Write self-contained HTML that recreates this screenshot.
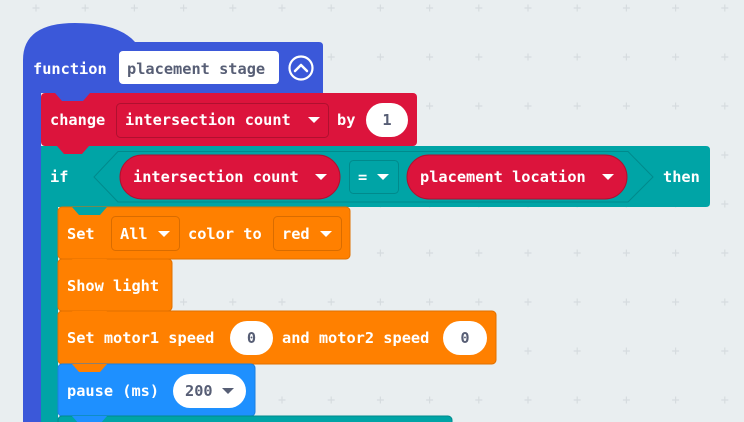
<!DOCTYPE html>
<html><head><style>
html,body{margin:0;padding:0;background:#e9eef0;width:744px;height:422px;overflow:hidden}
svg text{font-family:"DejaVu Sans Mono","Liberation Mono",monospace;font-weight:bold;font-size:15.3px;dominant-baseline:central}
.w{fill:#fff}.g{fill:#575e75}
</style></head><body>
<svg width="744" height="422" xmlns="http://www.w3.org/2000/svg">
<g fill="none" stroke="#d6dcdf" stroke-width="1.2" id="grid">
</g>
<path d="M23,60 Q23,23 75,23 Q118,23 135,42 L319,42 Q323,42 323,46 L323,93 L41,93 L41,422 L23,422 Z" fill="#3b58d9"/>
<path d="M41,146 L706,146 Q710,146 710,150 L710,203 Q710,207 706,207 L58,207 L58,422 L41,422 Z" fill="#00a4a6"/>
<rect x="41" y="93" width="376" height="53" rx="4" fill="#dc143c"/>
<rect x="58" y="207" width="292" height="52" rx="4" fill="#ff8000" stroke="#e07000" stroke-width="1"/>
<rect x="58" y="259" width="114" height="52" rx="4" fill="#ff8000" stroke="#e07000" stroke-width="1"/>
<rect x="58" y="311" width="438" height="53" rx="4" fill="#ff8000" stroke="#e07000" stroke-width="1"/>
<rect x="58" y="364" width="197" height="52" rx="4" fill="#1e90ff" stroke="#1a7fe0" stroke-width="1"/>
<rect x="58" y="416" width="394" height="20" rx="4" fill="#00a4a6" stroke="#008a8c" stroke-width="1"/>
<polygon points="55,93 62,101 83,101 90,93" fill="#3b58d9"/>
<polygon points="57,146 64,154 82,154 89,146" fill="#dc143c"/>
<polygon points="72,207 79,215 100,215 107,207" fill="#00a4a6"/>
<polygon points="72,259 79,267 100,267 107,259" fill="#ff8000"/>
<polygon points="72,311 79,319 100,319 107,311" fill="#ff8000"/>
<polygon points="72,364 79,372 100,372 107,364" fill="#ff8000"/>
<polygon points="72,416 79,424 100,424 107,416" fill="#1e90ff"/>
<text x="33" y="69" class="w">function</text>
<rect x="119" y="51" width="160" height="33" rx="4" fill="#fff"/>
<text x="127" y="69" class="g">placement stage</text>
<circle cx="301" cy="68" r="11.5" fill="none" stroke="#fff" stroke-width="2.2"/>
<polyline points="295,71 301,65 307,71" fill="none" stroke="#fff" stroke-width="2.5" stroke-linecap="round" stroke-linejoin="round"/>
<text x="50" y="120" class="w">change</text>
<rect x="116.5" y="103.5" width="212" height="34" rx="4" fill="#dc143c" stroke="#b0102f"/>
<text x="125" y="120" class="w">intersection count</text>
<polygon points="308,117 320,117 314,123" fill="#fff"/>
<text x="337" y="120" class="w">by</text>
<rect x="366" y="103" width="42" height="34" rx="17" fill="#fff"/>
<text x="387" y="120" class="g" text-anchor="middle">1</text>
<text x="50" y="177" class="w">if</text>
<polygon points="94,177 118,151.5 628,151.5 653,177 628,202 118,202" fill="#00a4a6" stroke="#008a8c"/>
<rect x="120" y="155" width="220" height="44" rx="22" fill="#dc143c" stroke="#b0102f"/>
<text x="133" y="177" class="w">intersection count</text>
<polygon points="315,174 327,174 321,180" fill="#fff"/>
<rect x="349.5" y="160.5" width="49" height="33" rx="4" fill="#00a4a6" stroke="#008a8c"/>
<text x="358" y="177" class="w">=</text>
<polygon points="377,174 389,174 383,180" fill="#fff"/>
<rect x="407" y="155" width="220" height="44" rx="22" fill="#dc143c" stroke="#b0102f"/>
<text x="420" y="177" class="w">placement location</text>
<polygon points="602,174 614,174 608,180" fill="#fff"/>
<text x="663" y="177" class="w">then</text>
<text x="67" y="234" class="w">Set</text>
<rect x="111.5" y="216.5" width="68" height="34" rx="4" fill="#ff8000" stroke="#d96c00"/>
<text x="120" y="234" class="w">All</text>
<polygon points="158,231 170,231 164,237" fill="#fff"/>
<text x="188" y="234" class="w">color to</text>
<rect x="273.5" y="216.5" width="68" height="34" rx="4" fill="#ff8000" stroke="#d96c00"/>
<text x="282" y="234" class="w">red</text>
<polygon points="320,231 332,231 326,237" fill="#fff"/>
<text x="67" y="286" class="w">Show light</text>
<text x="67" y="338" class="w">Set motor1 speed</text>
<rect x="230" y="321" width="43" height="34" rx="17" fill="#fff"/>
<text x="251.5" y="338" class="g" text-anchor="middle">0</text>
<text x="282" y="338" class="w">and motor2 speed</text>
<rect x="443" y="321" width="44" height="34" rx="17" fill="#fff"/>
<text x="465" y="338" class="g" text-anchor="middle">0</text>
<text x="67" y="391" class="w">pause (ms)</text>
<rect x="173" y="374" width="73" height="34" rx="17" fill="#fff"/>
<text x="185" y="391" class="g">200</text>
<polygon points="222,388 234,388 228,394" fill="#575e75"/>
</svg>
<script>
var g=document.getElementById('grid'),s='';
for(var x=36;x<744;x+=49.2)for(var y=8;y<422;y+=49)s+='<path d="M'+(x-3.5)+','+y+'h7M'+x+','+(y-3.5)+'v7"/>';
g.innerHTML=s;
</script>
</body></html>
